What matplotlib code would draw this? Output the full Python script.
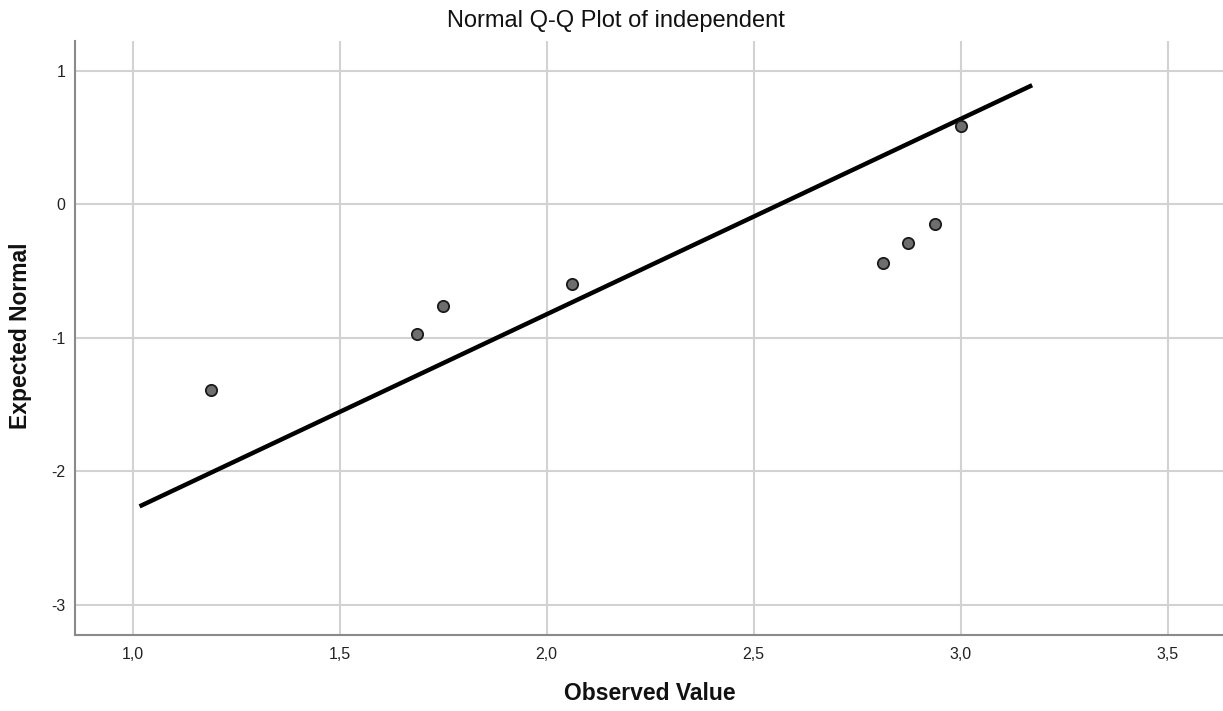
import matplotlib
matplotlib.use("Agg")
import matplotlib.pyplot as plt
from matplotlib.ticker import FuncFormatter

plt.rcParams['font.family'] = ['Liberation Sans', 'DejaVu Sans']

observed = [1.189, 1.687, 1.750, 2.062, 2.812, 2.873, 2.938, 3.000]
expected = [-1.392, -0.970, -0.760, -0.597, -0.437, -0.287, -0.145, 0.586]
line_x = [1.017, 3.173]
line_y = [-2.262, 0.891]
xticks = [1.0, 1.5, 2.0, 2.5, 3.0, 3.5]
yticks = [-3, -2, -1, 0, 1]

fig = plt.figure(figsize=(12.23, 7.11), dpi=100)
ax = fig.add_axes([75/1223, 76/711, 1 - 75/1223, (635-41)/711])

ax.set_xlim(0.861, 3.634)
ax.set_ylim(-3.225, 1.222)
ax.set_xticks(xticks)
ax.set_yticks(yticks)
ax.xaxis.set_major_formatter(FuncFormatter(lambda v, p: f"{v:.1f}".replace('.', ',')))
ax.yaxis.set_major_formatter(FuncFormatter(lambda v, p: f"{int(v)}"))
ax.grid(True, color='#d2d2d2', linewidth=1.5)
ax.set_axisbelow(True)
for s in ['top', 'right']:
    ax.spines[s].set_visible(False)
for s in ['left', 'bottom']:
    ax.spines[s].set_color('#8a8a8a')
    ax.spines[s].set_linewidth(1.5)
ax.tick_params(length=0, labelsize=11.5, colors='#222222')
ax.tick_params(axis='x', pad=8.5)
ax.tick_params(axis='y', pad=7)

ax.plot(line_x, line_y, color='black', linewidth=3.2, solid_capstyle='butt', zorder=3)
ax.scatter(observed, expected, s=66, facecolor='#6e6e6e', edgecolor='#1a1a1a', linewidth=1.3, zorder=4)

fig.text(616/1223, 1 - 21/711, 'Normal Q-Q Plot of independent', ha='center', va='center',
         fontsize=17, color='#111111')
fig.text(650/1223, 1 - 694/711, 'Observed Value', ha='center', va='center',
         fontsize=16.5, fontweight='bold', color='#111111')
fig.text(21/1223, 1 - 336/711, 'Expected Normal', ha='center', va='center', rotation=90,
         fontsize=16.5, fontweight='bold', color='#111111')

fig.savefig('out.png', dpi=100)
